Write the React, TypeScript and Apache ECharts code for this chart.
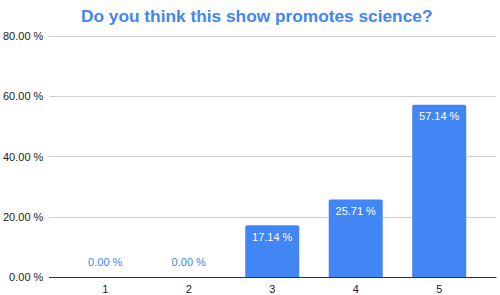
import React, { useEffect, useRef } from "react";
import * as echarts from "echarts";

const categories = [1, 2, 3, 4, 5];
const values = [0, 0, 17.14, 25.71, 57.14];
const yTicks = [0, 20, 40, 60, 80];
const title = "Do you think this show promotes science?";

export default function App() {
  const ref = useRef<HTMLDivElement>(null);
  useEffect(() => {
    if (!ref.current) return;
    const chart = echarts.init(ref.current, undefined, { renderer: "svg" });
    const fmt = (v: number) => v.toFixed(2) + " %";
    chart.setOption({
      animation: false,
      title: {
        text: title,
        left: 76,
        top: 2,
        textStyle: { color: "#4285F4", fontSize: 17.3, fontWeight: "bold", fontFamily: "Liberation Sans, Arial, sans-serif" },
      },
      grid: { left: 48, right: 4, top: 36, bottom: 18 },
      xAxis: {
        type: "value",
        min: 0.331,
        max: 5.68,
        splitLine: { show: false },
        axisLine: { show: true, onZero: false, lineStyle: { color: "#333", width: 1 } },
        axisTick: { show: false },
        axisLabel: {
          customValues: categories,
          color: "#222",
          fontSize: 11,
          margin: 6,
          fontFamily: "Liberation Sans, Arial, sans-serif",
          formatter: (v: number) => String(v),
        },
      },
      yAxis: {
        type: "value",
        min: 0,
        max: yTicks[yTicks.length - 1],
        interval: 20,
        axisLine: { show: false },
        axisTick: { show: false },
        splitLine: { lineStyle: { color: "#d0d0d0" } },
        axisLabel: {
          color: "#222",
          fontSize: 11,
          margin: 6,
          fontFamily: "Liberation Sans, Arial, sans-serif",
          formatter: (v: number) => fmt(v),
        },
      },
      series: [
        {
          type: "bar",
          barWidth: 54,
          itemStyle: { color: "#4285F4", borderRadius: [2, 2, 0, 0] },
          data: categories.map((c, i) => ({
            value: [c, values[i]],
            label: values[i] > 0
              ? { show: true, position: "insideTop", distance: 6, color: "#fff" }
              : { show: true, position: "top", distance: 10, color: "#4285F4" },
          })),
          label: {
            fontSize: 11,
            fontFamily: "Liberation Sans, Arial, sans-serif",
            formatter: (p: any) => fmt(p.value[1]),
          },
        },
      ],
    });
    return () => chart.dispose();
  }, []);
  return <div ref={ref} style={{ width: 500, height: 295, position: "absolute", left: 0, top: 0 }} />;
}
